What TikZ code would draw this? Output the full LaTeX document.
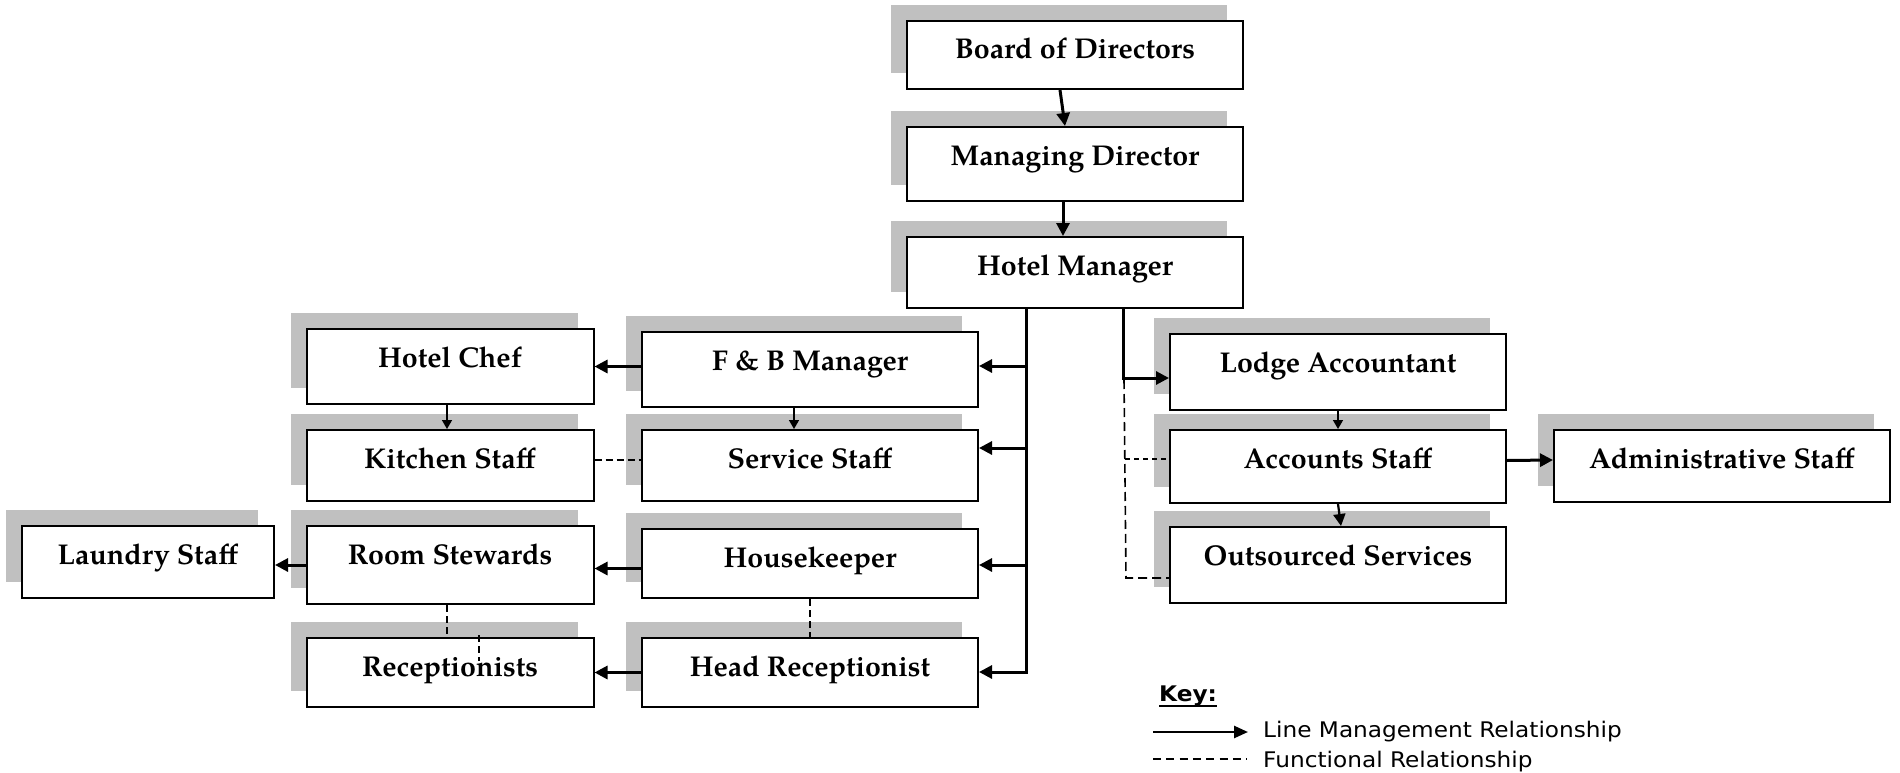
\documentclass[tikz,border=0pt]{standalone}
\usepackage{fontspec}
\setmainfont{TeX Gyre Pagella}
\newfontfamily\keyfont[FakeStretch=1.08]{DejaVu Sans}
\usetikzlibrary{arrows.meta,shadows}
\definecolor{shgray}{RGB}{192,192,192}
\begin{document}
\begin{tikzpicture}[x=1pt,y=-1pt,
  box/.style={draw, line width=2pt, fill=white, rectangle, anchor=north,
    minimum width=#1, inner xsep=0pt, inner ysep=0pt, text height=38pt,
    font=\fontsize{28.6}{34}\selectfont\bfseries,
    drop shadow={shadow xshift=-16pt, shadow yshift=16pt, fill=shgray, opacity=1}},
  box/.default=336pt,
  mainarr/.style={line width=3pt, -{Triangle[length=13pt,width=13pt]}},
  midarr/.style={line width=2.2pt, -{Triangle[length=12pt,width=12pt]}},
  thinarr/.style={line width=1.5pt, -{Triangle[length=9pt,width=10pt]}},
  funcline/.style={line width=2pt, dash pattern=on 7pt off 4pt},
  longfunc/.style={line width=1.6pt, dash pattern=on 9pt off 5pt},
  thinfunc/.style={line width=1.3pt, dash pattern=on 5pt off 4pt},
  keytext/.style={anchor=base west, inner sep=0pt, font=\keyfont\fontsize{21.5}{26}\selectfont},
]
\useasboundingbox (0,0) rectangle (1900,773);

% central chain
\node[box, text depth=30pt] (bod) at (1075,20) {Board of Directors};
\node[box, text depth=36pt] (md)  at (1075,126) {Managing Director};
\node[box, text depth=33pt] (hm)  at (1075,236) {Hotel Manager};

% food and beverage, housekeeping, reception
\node[box=287pt, text depth=37pt] (chef)     at (450,328) {Hotel Chef};
\node[box, text depth=37pt]       (fb)       at (810,331) {F \& B Manager};
\node[box=287pt, text depth=33pt] (kitchen)  at (450,429) {Kitchen Staff};
\node[box, text depth=33pt]       (service)  at (810,429) {Service Staff};
\node[box=252pt, text depth=34pt] (laundry)  at (148,525) {Laundry Staff};
\node[box=287pt, text depth=40pt] (stewards) at (450,525) {Room Stewards};
\node[box, text depth=31pt]       (housek)   at (810,528) {Housekeeper};
\node[box=287pt, text depth=31pt] (recept)   at (450,637) {Receptionists};
\node[box, text depth=31pt]       (headrec)  at (810,637) {Head Receptionist};

% accounts side
\node[box, text depth=38pt] (lodge)    at (1338,333) {Lodge Accountant};
\node[box, text depth=35pt] (accounts) at (1338,429) {Accounts Staff};
\node[box, text depth=38pt] (outsrc)   at (1338,526) {Outsourced Services};
\node[box, text depth=34pt] (admin)    at (1722,429) {Administrative Staff};

% junctions on the two lines leaving the hotel manager
\coordinate (jfb) at (1026,366);
\coordinate (jsv) at (1026,448);
\coordinate (jhk) at (1026,565);
\coordinate (jhr) at (1026,672);
\coordinate (jla) at (1123,378);
\coordinate (jd1) at (1124,380);
\coordinate (jd2) at (1126,578);
\coordinate (jac) at (1125,459);

% line management
\draw[mainarr] ([xshift=-15pt]bod.south) -- ([xshift=-10pt]md.north);
\draw[mainarr] ([xshift=-12pt]md.south) -- ([xshift=-12pt]hm.north);
\draw[mainarr] (hm.south -| jhr) -- (jhr) -- (jhr -| headrec.east);
\draw[mainarr] (jfb) -- (jfb -| fb.east);
\draw[mainarr] (jsv) -- (jsv -| service.east);
\draw[mainarr] (jhk) -- (jhk -| housek.east);
\draw[mainarr] (hm.south -| jla) -- (jla) -- (jla -| lodge.west);

\draw[mainarr] (chef.east -| fb.west) -- (chef.east);
\draw[thinarr] ([xshift=-3pt]chef.south) -- ([xshift=-3pt]kitchen.north);
\draw[thinarr] ([xshift=-16pt]fb.south) -- ([xshift=-16pt]service.north);
\draw[mainarr] ([yshift=-5pt]housek.west) -- ([yshift=-5pt]housek.west -| stewards.east);
\draw[mainarr] ([yshift=-3pt]laundry.east -| stewards.west) -- ([yshift=-3pt]laundry.east);
\draw[mainarr] (headrec.west) -- (headrec.west -| recept.east);

\draw[thinarr] (lodge.south) -- (accounts.north);
\draw[midarr] (accounts.south) -- ([xshift=3pt]outsrc.north);
\draw[mainarr] ([yshift=6pt]accounts.east) -- ([yshift=6pt]admin.west);

% functional relationships
\draw[funcline] ([yshift=6pt]kitchen.east) -- ([yshift=6pt]service.west);
\draw[funcline] ([xshift=-3pt]stewards.south) -- ([xshift=-3pt]recept.north);
\draw[funcline] ([xshift=29pt,yshift=2pt]recept.north) -- ([xshift=29pt,yshift=-24pt]recept.north);
\draw[funcline] (housek.south) -- (headrec.north);
\draw[longfunc] (jd1) -- (jd2) -- (jd2 -| outsrc.west);
\draw[thinfunc] (jac) -- (jac -| accounts.west);

% key
\node[keytext, font=\keyfont\bfseries\fontsize{21.5}{26}\selectfont] (keyhead) at (1159,701) {Key:};
\draw[line width=2pt] ([yshift=-4.5pt]keyhead.base west) -- ([yshift=-4.5pt]keyhead.base east);
\coordinate (ka1) at (1153,732);
\coordinate (ka2) at (1248,732);
\coordinate (kd1) at (1153,759);
\coordinate (kd2) at (1247,759);
\draw[line width=2.5pt, -{Triangle[length=14pt,width=12pt]}] (ka1) -- (ka2);
\draw[line width=1.3pt, dash pattern=on 8pt off 5.3pt] (kd1) -- (kd2);
\node[keytext] (keyline) at (1263,737) {Line Management Relationship};
\node[keytext] (keyfunc) at (1263,767) {Functional Relationship};
\end{tikzpicture}
\end{document}
